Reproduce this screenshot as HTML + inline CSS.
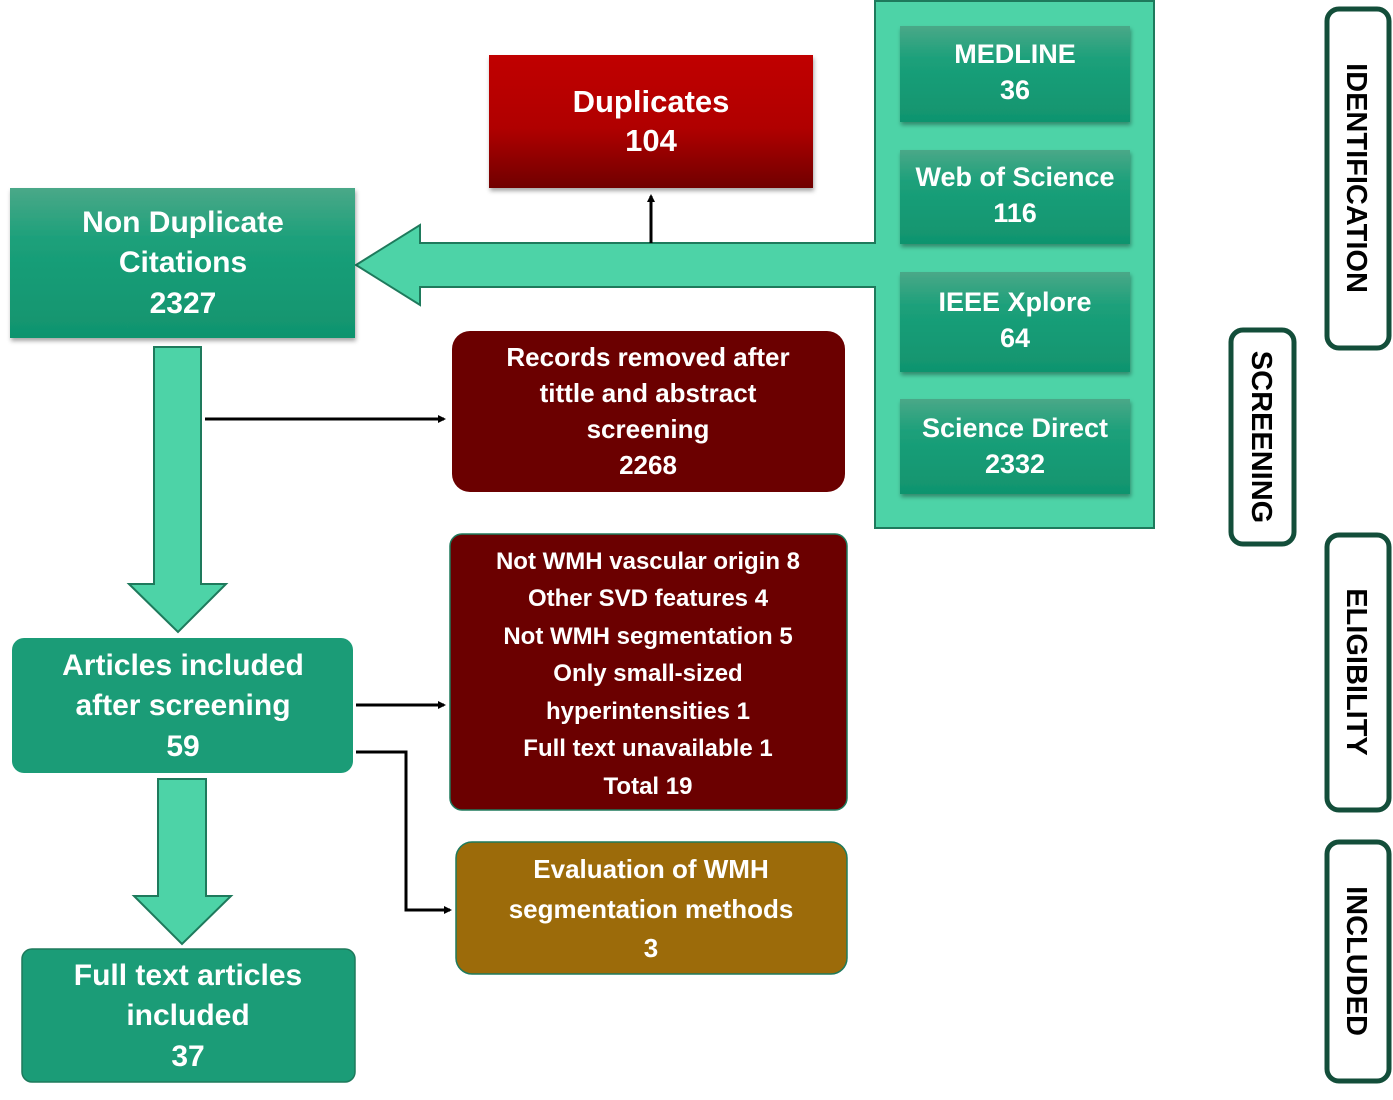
<!DOCTYPE html>
<html><head><meta charset="utf-8"><style>body{margin:0;background:#fff}svg{display:block}text{font-family:"Liberation Sans",sans-serif;font-weight:bold;fill:#fff;text-anchor:middle}</style></head><body>
<svg width="1393" height="1100" viewBox="0 0 1393 1100" xmlns="http://www.w3.org/2000/svg">
<defs>
<linearGradient id="g" x1="0" y1="0" x2="0" y2="1"><stop offset="0" stop-color="#4aa888"/><stop offset="0.35" stop-color="#1ba07a"/><stop offset="1" stop-color="#10946e"/></linearGradient>
<linearGradient id="r" x1="0" y1="0" x2="0" y2="1"><stop offset="0" stop-color="#c00000"/><stop offset="0.55" stop-color="#b00000"/><stop offset="1" stop-color="#700000"/></linearGradient>
<filter id="s" x="-5%" y="-5%" width="110%" height="115%"><feDropShadow dx="1" dy="3" stdDeviation="2" flood-color="#000" flood-opacity="0.35"/></filter>
<marker id="a" markerWidth="8" markerHeight="8" refX="6" refY="4" orient="auto" markerUnits="userSpaceOnUse"><path d="M0,0 L8,4 L0,8 z" fill="#000"/></marker>
</defs>
<!-- source panel -->
<rect x="875" y="1" width="279" height="527" fill="#4dd3a7" stroke="#1e7a5c" stroke-width="2"/>
<g filter="url(#s)">
<rect x="900" y="26" width="230" height="96" fill="url(#g)"/>
<rect x="900" y="150" width="230" height="94" fill="url(#g)"/>
<rect x="900" y="272" width="230" height="100" fill="url(#g)"/>
<rect x="900" y="399" width="230" height="95" fill="url(#g)"/>
</g>
<g font-size="27"><text x="1015" y="63">MEDLINE</text><text x="1015" y="99">36</text>
<text x="1015" y="186">Web of Science</text><text x="1015" y="222">116</text>
<text x="1015" y="311">IEEE Xplore</text><text x="1015" y="347">64</text>
<text x="1015" y="437">Science Direct</text><text x="1015" y="473">2332</text></g>
<!-- left arrow -->
<path d="M876,243 L420,243 L420,225 L356,265 L420,305 L420,287 L876,287" fill="#4dd3a7" stroke="#1e7a5c" stroke-width="2"/>
<!-- duplicates -->
<line x1="651" y1="243" x2="651" y2="196" stroke="#000" stroke-width="3" marker-end="url(#a)"/>
<rect x="489" y="55" width="324" height="133" fill="url(#r)" filter="url(#s)"/>
<text x="651" y="112" font-size="31">Duplicates</text><text x="651" y="151" font-size="31">104</text>
<!-- non dup -->
<rect x="10" y="188" width="345" height="150" fill="url(#g)" filter="url(#s)"/>
<g font-size="30"><text x="183" y="232">Non Duplicate</text><text x="183" y="272">Citations</text><text x="183" y="313">2327</text></g>
<!-- down arrows -->
<path d="M154,347 L201,347 L201,584 L226,584 L178,632 L129,584 L154,584 Z" fill="#4dd3a7" stroke="#1e7a5c" stroke-width="2"/>
<path d="M158,779 L206,779 L206,896 L231,896 L182,944 L134,896 L158,896 Z" fill="#4dd3a7" stroke="#1e7a5c" stroke-width="2"/>
<!-- records removed -->
<line x1="205" y1="419" x2="444" y2="419" stroke="#000" stroke-width="3" marker-end="url(#a)"/>
<rect x="452" y="331" width="393" height="161" rx="18" fill="#6b0000"/>
<g font-size="26"><text x="648" y="366">Records removed after</text><text x="648" y="402">tittle and abstract</text><text x="648" y="438">screening</text><text x="648" y="474">2268</text></g>
<!-- articles -->
<rect x="12" y="638" width="341" height="135" rx="12" fill="#1b9c77"/>
<g font-size="30"><text x="183" y="675">Articles  included</text><text x="183" y="715">after screening</text><text x="183" y="756">59</text></g>
<!-- exclusions -->
<line x1="356" y1="705" x2="444" y2="705" stroke="#000" stroke-width="3" marker-end="url(#a)"/>
<rect x="450" y="534" width="397" height="276" rx="12" fill="#6b0000" stroke="#1e7a5c" stroke-width="1.5"/>
<g font-size="24"><text x="648" y="569">Not WMH vascular origin 8</text><text x="648" y="606">Other SVD features 4</text><text x="648" y="644">Not WMH segmentation 5</text><text x="648" y="681">Only small-sized</text><text x="648" y="719">hyperintensities 1</text><text x="648" y="756">Full text unavailable 1</text><text x="648" y="794">Total 19</text></g>
<!-- evaluation -->
<polyline points="356,752 406,752 406,910 450,910" fill="none" stroke="#000" stroke-width="3" marker-end="url(#a)"/>
<rect x="456" y="842" width="391" height="132" rx="16" fill="#9c6b0a" stroke="#1e7a5c" stroke-width="1.5"/>
<g font-size="26"><text x="651" y="878">Evaluation of WMH</text><text x="651" y="918">segmentation methods</text><text x="651" y="957">3</text></g>
<!-- full text -->
<rect x="22" y="949" width="333" height="133" rx="10" fill="#1b9c77" stroke="#1e7a5c" stroke-width="1.5"/>
<g font-size="30"><text x="188" y="985">Full text articles</text><text x="188" y="1025">included</text><text x="188" y="1066">37</text></g>
<!-- stage labels -->
<g fill="#fff" stroke="#134e3a" stroke-width="5">
<rect x="1327" y="9" width="62" height="339" rx="12"/>
<rect x="1231" y="330" width="63" height="214" rx="12"/>
<rect x="1327" y="535" width="62" height="275" rx="12"/>
<rect x="1327" y="842" width="62" height="239" rx="12"/>
</g>
<g font-size="29" style="fill:#000">
<text transform="translate(1347,178) rotate(90)" style="fill:#000">IDENTIFICATION</text>
<text transform="translate(1252,437) rotate(90)" style="fill:#000">SCREENING</text>
<text transform="translate(1347,672) rotate(90)" style="fill:#000">ELIGIBILITY</text>
<text transform="translate(1347,961) rotate(90)" style="fill:#000">INCLUDED</text>
</g>
</svg>
</body></html>
